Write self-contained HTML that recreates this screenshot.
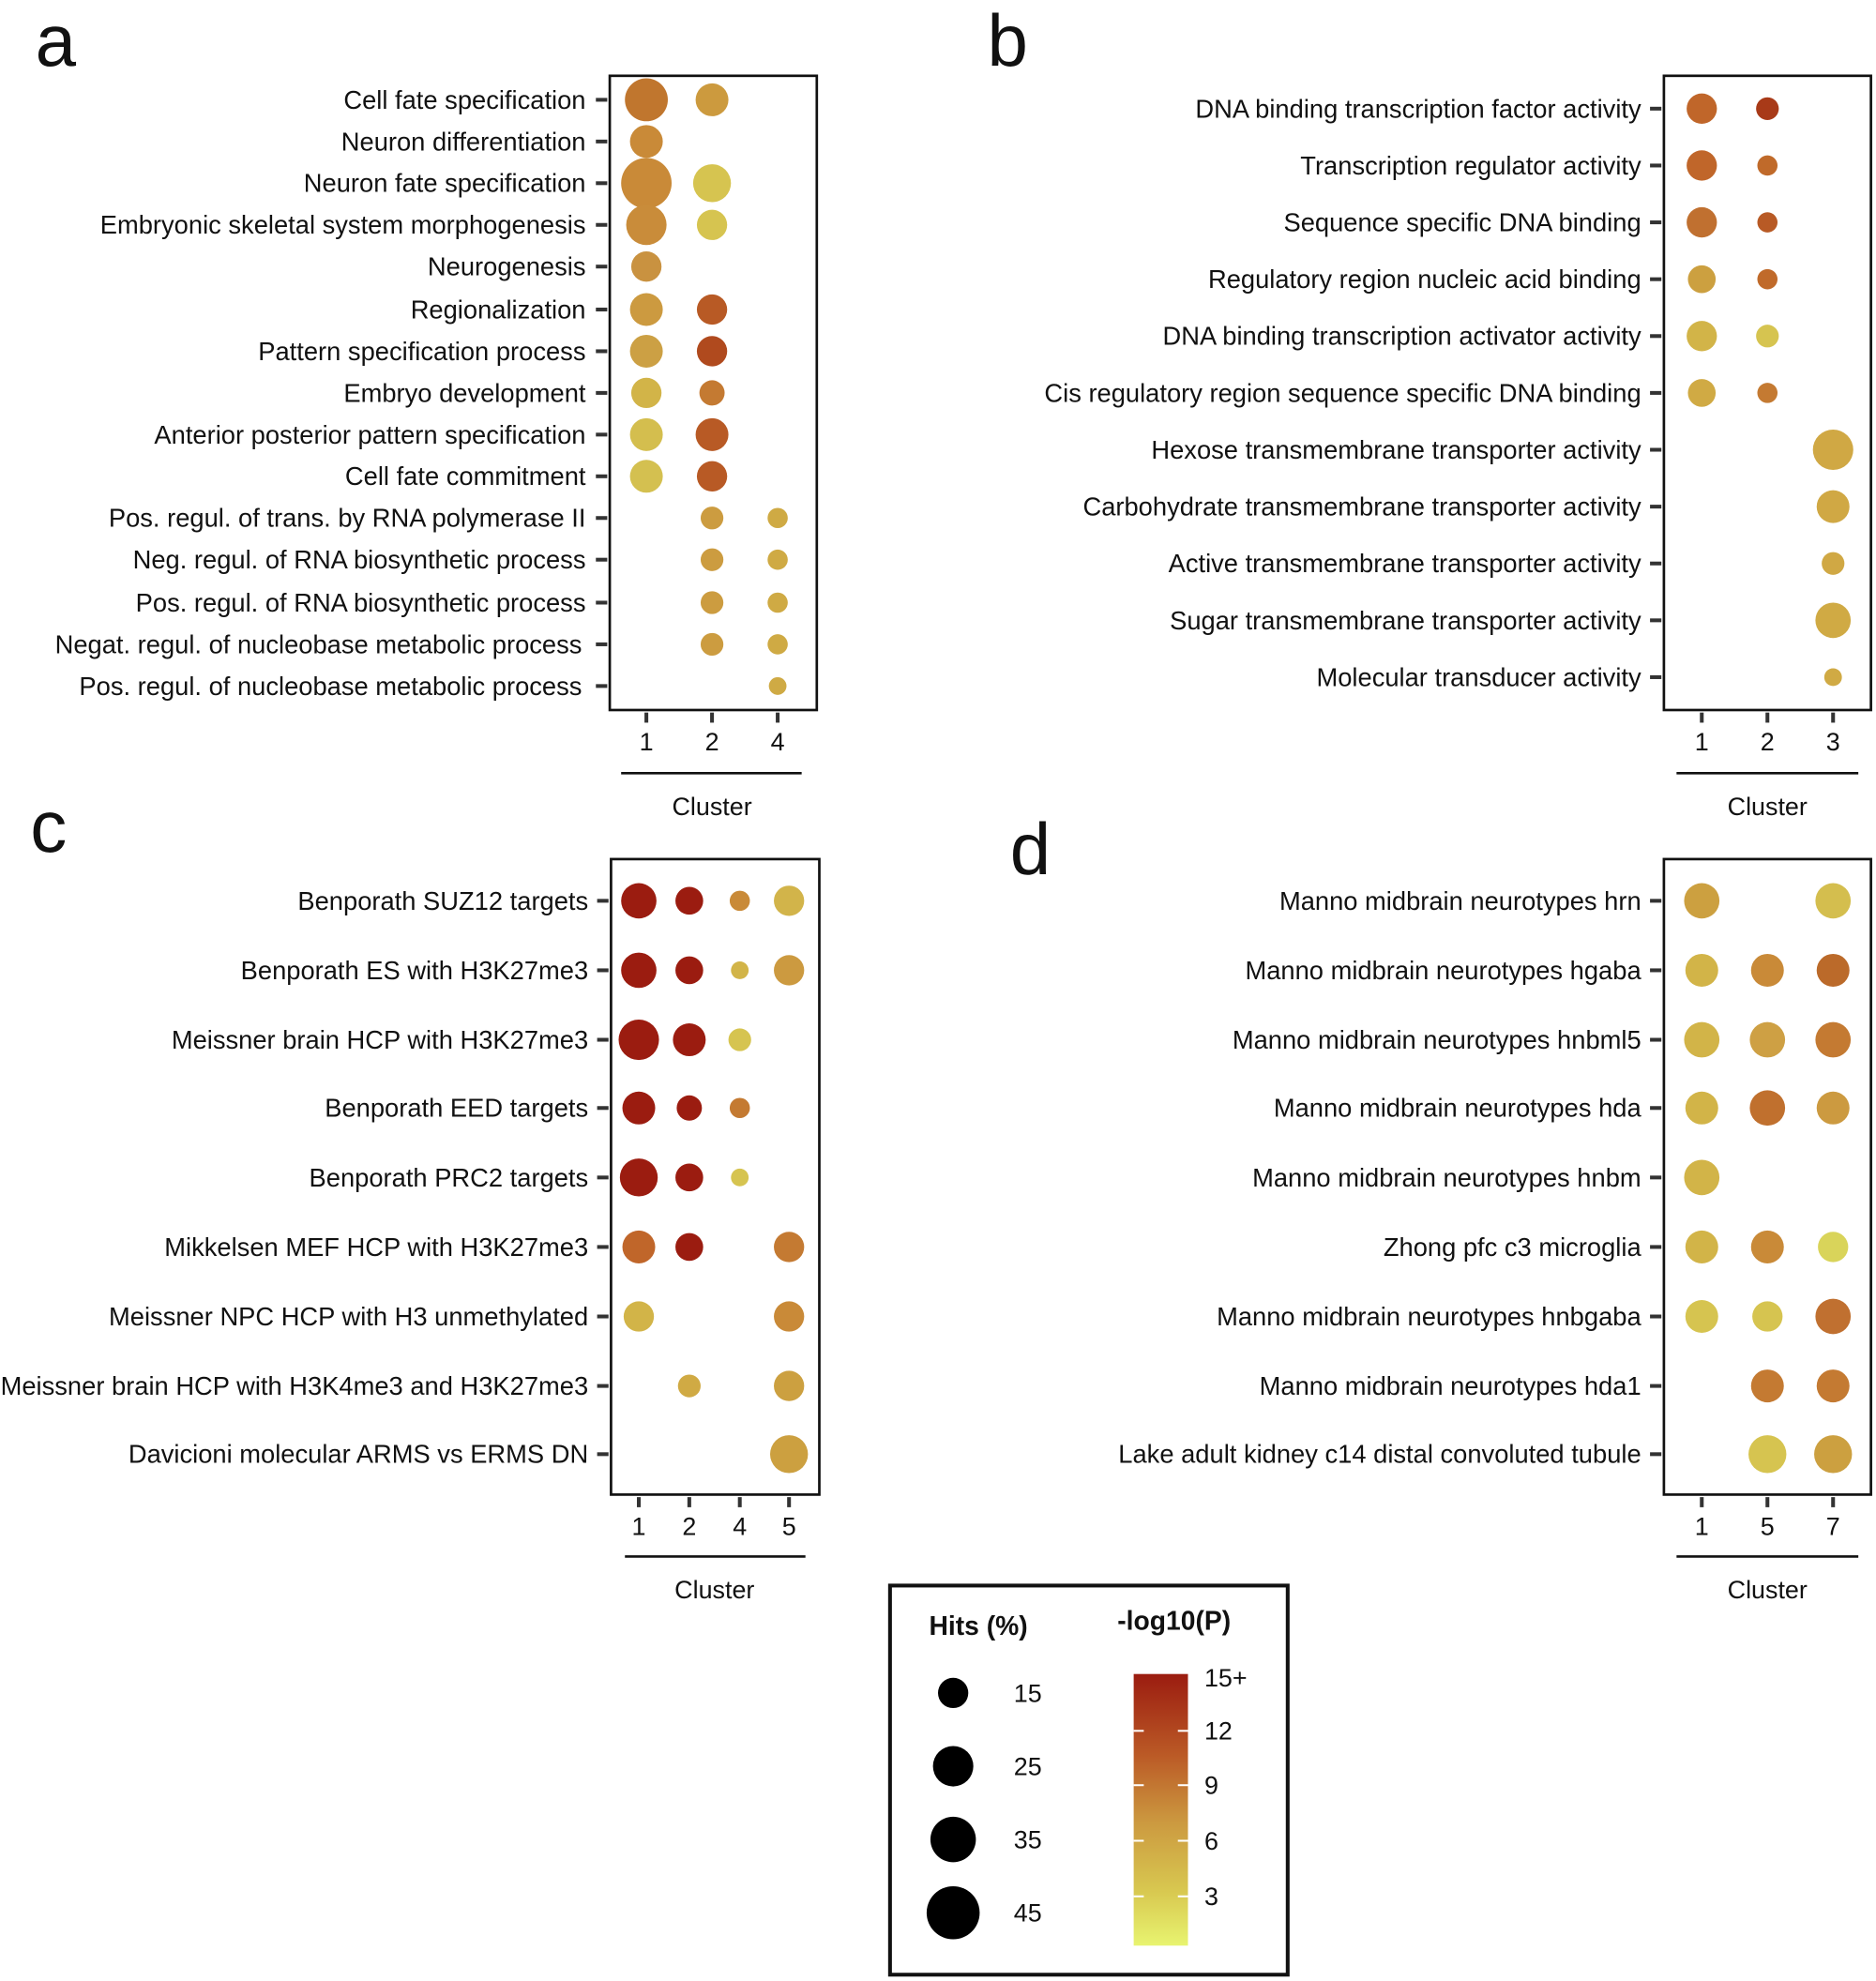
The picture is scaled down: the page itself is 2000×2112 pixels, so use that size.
<!DOCTYPE html>
<html><head><meta charset="utf-8"><style>
html,body{margin:0;padding:0;background:#fff}
svg{display:block}
text{font-family:"Liberation Sans",Arial,sans-serif;fill:#111}
.l{font-size:20.3px;text-anchor:end}
.t{font-size:20px;text-anchor:middle}
.p{font-size:58px}
.ax{stroke:#111;stroke-width:2;fill:none}
.tk{stroke:#333;stroke-width:3}
</style></head><body>
<svg width="2000" height="2112" viewBox="0 0 1486 1568" preserveAspectRatio="none" xmlns="http://www.w3.org/2000/svg">
<defs><linearGradient id="g" x1="0" y1="0" x2="0" y2="1">
<stop offset="0" stop-color="#9b1c10"/><stop offset="0.3" stop-color="#bb5a26"/><stop offset="0.55" stop-color="#cc9a40"/><stop offset="0.8" stop-color="#d8c850"/><stop offset="1" stop-color="#e8f470"/></linearGradient></defs>

<!-- Panel a -->
<text class="p" x="28" y="52">a</text>
<rect class="ax" x="483" y="60" width="164" height="502"/>
<g class="tk">
<line x1="472" y1="79" x2="481" y2="79"/><line x1="472" y1="112" x2="481" y2="112"/><line x1="472" y1="145" x2="481" y2="145"/><line x1="472" y1="178" x2="481" y2="178"/><line x1="472" y1="211" x2="481" y2="211"/><line x1="472" y1="245" x2="481" y2="245"/><line x1="472" y1="278" x2="481" y2="278"/><line x1="472" y1="311" x2="481" y2="311"/><line x1="472" y1="344" x2="481" y2="344"/><line x1="472" y1="377" x2="481" y2="377"/><line x1="472" y1="410" x2="481" y2="410"/><line x1="472" y1="443" x2="481" y2="443"/><line x1="472" y1="477" x2="481" y2="477"/><line x1="472" y1="510" x2="481" y2="510"/><line x1="472" y1="543" x2="481" y2="543"/>
<line x1="512" y1="564" x2="512" y2="572"/><line x1="564" y1="564" x2="564" y2="572"/><line x1="616" y1="564" x2="616" y2="572"/>
</g>
<text class="l" x="464" y="86">Cell fate specification</text>
<text class="l" x="464" y="119">Neuron differentiation</text>
<text class="l" x="464" y="152">Neuron fate specification</text>
<text class="l" x="464" y="185">Embryonic skeletal system morphogenesis</text>
<text class="l" x="464" y="218">Neurogenesis</text>
<text class="l" x="464" y="252">Regionalization</text>
<text class="l" x="464" y="285">Pattern specification process</text>
<text class="l" x="464" y="318">Embryo development</text>
<text class="l" x="464" y="351">Anterior posterior pattern specification</text>
<text class="l" x="464" y="384">Cell fate commitment</text>
<text class="l" x="464" y="417">Pos. regul. of trans. by RNA polymerase II</text>
<text class="l" x="464" y="450">Neg. regul. of RNA biosynthetic process</text>
<text class="l" x="464" y="484">Pos. regul. of RNA biosynthetic process</text>
<text class="l" x="461" y="517">Negat. regul. of nucleobase metabolic process</text>
<text class="l" x="461" y="550">Pos. regul. of nucleobase metabolic process</text>
<text class="t" x="512" y="594">1</text><text class="t" x="564" y="594">2</text><text class="t" x="616" y="594">4</text>
<line class="ax" x1="492" y1="612" x2="635" y2="612"/>
<text class="t" x="564" y="645">Cluster</text>
<circle cx="512" cy="79" r="17" fill="#c0762e"/><circle cx="564" cy="79" r="13" fill="#cc9a3e"/>
<circle cx="512" cy="112" r="13" fill="#c98a38"/>
<circle cx="512" cy="145" r="20" fill="#c98a38"/><circle cx="564" cy="145" r="15" fill="#d6c450"/>
<circle cx="512" cy="178" r="16" fill="#c98c3a"/><circle cx="564" cy="178" r="12" fill="#d6c450"/>
<circle cx="512" cy="211" r="12" fill="#c99240"/>
<circle cx="512" cy="245" r="13" fill="#cc9a40"/><circle cx="564" cy="245" r="12" fill="#b85a25"/>
<circle cx="512" cy="278" r="13" fill="#cca044"/><circle cx="564" cy="278" r="12" fill="#b04a1e"/>
<circle cx="512" cy="311" r="12" fill="#d2b448"/><circle cx="564" cy="311" r="10" fill="#c47a32"/>
<circle cx="512" cy="344" r="13" fill="#d4be4e"/><circle cx="564" cy="344" r="13" fill="#b85a25"/>
<circle cx="512" cy="377" r="13" fill="#d4c050"/><circle cx="564" cy="377" r="12" fill="#b85a25"/>
<circle cx="564" cy="410" r="9" fill="#cc9c40"/><circle cx="616" cy="410" r="8" fill="#cfaa44"/>
<circle cx="564" cy="443" r="9" fill="#cc9c40"/><circle cx="616" cy="443" r="8" fill="#cfaa44"/>
<circle cx="564" cy="477" r="9" fill="#cc9c40"/><circle cx="616" cy="477" r="8" fill="#cfaa44"/>
<circle cx="564" cy="510" r="9" fill="#cc9c40"/><circle cx="616" cy="510" r="8" fill="#cfaa44"/>
<circle cx="616" cy="543" r="7" fill="#cfaa44"/>

<!-- Panel b -->
<text class="p" x="782" y="52">b</text>
<rect class="ax" x="1318" y="60" width="164" height="502"/>
<g class="tk">
<line x1="1307" y1="86" x2="1316" y2="86"/><line x1="1307" y1="131" x2="1316" y2="131"/><line x1="1307" y1="176" x2="1316" y2="176"/><line x1="1307" y1="221" x2="1316" y2="221"/><line x1="1307" y1="266" x2="1316" y2="266"/><line x1="1307" y1="311" x2="1316" y2="311"/><line x1="1307" y1="356" x2="1316" y2="356"/><line x1="1307" y1="401" x2="1316" y2="401"/><line x1="1307" y1="446" x2="1316" y2="446"/><line x1="1307" y1="491" x2="1316" y2="491"/><line x1="1307" y1="536" x2="1316" y2="536"/>
<line x1="1348" y1="564" x2="1348" y2="572"/><line x1="1400" y1="564" x2="1400" y2="572"/><line x1="1452" y1="564" x2="1452" y2="572"/>
</g>
<text class="l" x="1300" y="93">DNA binding transcription factor activity</text>
<text class="l" x="1300" y="138">Transcription regulator activity</text>
<text class="l" x="1300" y="183">Sequence specific DNA binding</text>
<text class="l" x="1300" y="228">Regulatory region nucleic acid binding</text>
<text class="l" x="1300" y="273">DNA binding transcription activator activity</text>
<text class="l" x="1300" y="318">Cis regulatory region sequence specific DNA binding</text>
<text class="l" x="1300" y="363">Hexose transmembrane transporter activity</text>
<text class="l" x="1300" y="408">Carbohydrate transmembrane transporter activity</text>
<text class="l" x="1300" y="453">Active transmembrane transporter activity</text>
<text class="l" x="1300" y="498">Sugar transmembrane transporter activity</text>
<text class="l" x="1300" y="543">Molecular transducer activity</text>
<text class="t" x="1348" y="594">1</text><text class="t" x="1400" y="594">2</text><text class="t" x="1452" y="594">3</text>
<line class="ax" x1="1328" y1="612" x2="1472" y2="612"/>
<text class="t" x="1400" y="645">Cluster</text>
<circle cx="1348" cy="86" r="12" fill="#c0662a"/><circle cx="1400" cy="86" r="9" fill="#a83a18"/>
<circle cx="1348" cy="131" r="12" fill="#c0662a"/><circle cx="1400" cy="131" r="8" fill="#c06a2a"/>
<circle cx="1348" cy="176" r="12" fill="#c07030"/><circle cx="1400" cy="176" r="8" fill="#b85a25"/>
<circle cx="1348" cy="221" r="11" fill="#cca040"/><circle cx="1400" cy="221" r="8" fill="#c06a2a"/>
<circle cx="1348" cy="266" r="12" fill="#d2b448"/><circle cx="1400" cy="266" r="9" fill="#d6c450"/>
<circle cx="1348" cy="311" r="11" fill="#d0aa44"/><circle cx="1400" cy="311" r="8" fill="#c47a32"/>
<circle cx="1452" cy="356" r="16" fill="#d0a844"/>
<circle cx="1452" cy="401" r="13" fill="#d0a844"/>
<circle cx="1452" cy="446" r="9" fill="#d0a844"/>
<circle cx="1452" cy="491" r="14" fill="#d0aa44"/>
<circle cx="1452" cy="536" r="7" fill="#d0aa44"/>

<!-- Panel c -->
<text class="p" x="24" y="674">c</text>
<rect class="ax" x="484" y="680" width="165" height="503"/>
<g class="tk">
<line x1="473" y1="713" x2="482" y2="713"/><line x1="473" y1="768" x2="482" y2="768"/><line x1="473" y1="823" x2="482" y2="823"/><line x1="473" y1="877" x2="482" y2="877"/><line x1="473" y1="932" x2="482" y2="932"/><line x1="473" y1="987" x2="482" y2="987"/><line x1="473" y1="1042" x2="482" y2="1042"/><line x1="473" y1="1097" x2="482" y2="1097"/><line x1="473" y1="1151" x2="482" y2="1151"/>
<line x1="506" y1="1185" x2="506" y2="1193"/><line x1="546" y1="1185" x2="546" y2="1193"/><line x1="586" y1="1185" x2="586" y2="1193"/><line x1="625" y1="1185" x2="625" y2="1193"/>
</g>
<text class="l" x="466" y="720">Benporath SUZ12 targets</text>
<text class="l" x="466" y="775">Benporath ES with H3K27me3</text>
<text class="l" x="466" y="830">Meissner brain HCP with H3K27me3</text>
<text class="l" x="466" y="884">Benporath EED targets</text>
<text class="l" x="466" y="939">Benporath PRC2 targets</text>
<text class="l" x="466" y="994">Mikkelsen MEF HCP with H3K27me3</text>
<text class="l" x="466" y="1049">Meissner NPC HCP with H3 unmethylated</text>
<text class="l" x="466" y="1104">Meissner brain HCP with H3K4me3 and H3K27me3</text>
<text class="l" x="466" y="1158">Davicioni molecular ARMS vs ERMS DN</text>
<text class="t" x="506" y="1215">1</text><text class="t" x="546" y="1215">2</text><text class="t" x="586" y="1215">4</text><text class="t" x="625" y="1215">5</text>
<line class="ax" x1="495" y1="1232" x2="638" y2="1232"/>
<text class="t" x="566" y="1265">Cluster</text>
<circle cx="506" cy="713" r="14" fill="#9b1c10"/><circle cx="546" cy="713" r="11" fill="#9b1c10"/><circle cx="586" cy="713" r="8" fill="#c98a38"/><circle cx="625" cy="713" r="12" fill="#d2b44a"/>
<circle cx="506" cy="768" r="14" fill="#9b1c10"/><circle cx="546" cy="768" r="11" fill="#9b1c10"/><circle cx="586" cy="768" r="7" fill="#d2b448"/><circle cx="625" cy="768" r="12" fill="#cc9a40"/>
<circle cx="506" cy="823" r="16" fill="#9b1c10"/><circle cx="546" cy="823" r="13" fill="#9b1c10"/><circle cx="586" cy="823" r="9" fill="#d6c450"/>
<circle cx="506" cy="877" r="13" fill="#9b1c10"/><circle cx="546" cy="877" r="10" fill="#9b1c10"/><circle cx="586" cy="877" r="8" fill="#c47a32"/>
<circle cx="506" cy="932" r="15" fill="#9b1c10"/><circle cx="546" cy="932" r="11" fill="#9b1c10"/><circle cx="586" cy="932" r="7" fill="#d6c450"/>
<circle cx="506" cy="987" r="13" fill="#c0662a"/><circle cx="546" cy="987" r="11" fill="#9b1c10"/><circle cx="625" cy="987" r="12" fill="#c47a32"/>
<circle cx="506" cy="1042" r="12" fill="#d2b448"/><circle cx="625" cy="1042" r="12" fill="#c98a38"/>
<circle cx="546" cy="1097" r="9" fill="#d0aa44"/><circle cx="625" cy="1097" r="12" fill="#cca040"/>
<circle cx="625" cy="1151" r="15" fill="#cca040"/>

<!-- Panel d -->
<text class="p" x="800" y="692">d</text>
<rect class="ax" x="1318" y="680" width="164" height="503"/>
<g class="tk">
<line x1="1307" y1="713" x2="1316" y2="713"/><line x1="1307" y1="768" x2="1316" y2="768"/><line x1="1307" y1="823" x2="1316" y2="823"/><line x1="1307" y1="877" x2="1316" y2="877"/><line x1="1307" y1="932" x2="1316" y2="932"/><line x1="1307" y1="987" x2="1316" y2="987"/><line x1="1307" y1="1042" x2="1316" y2="1042"/><line x1="1307" y1="1097" x2="1316" y2="1097"/><line x1="1307" y1="1151" x2="1316" y2="1151"/>
<line x1="1348" y1="1185" x2="1348" y2="1193"/><line x1="1400" y1="1185" x2="1400" y2="1193"/><line x1="1452" y1="1185" x2="1452" y2="1193"/>
</g>
<text class="l" x="1300" y="720">Manno midbrain neurotypes hrn</text>
<text class="l" x="1300" y="775">Manno midbrain neurotypes hgaba</text>
<text class="l" x="1300" y="830">Manno midbrain neurotypes hnbml5</text>
<text class="l" x="1300" y="884">Manno midbrain neurotypes hda</text>
<text class="l" x="1300" y="939">Manno midbrain neurotypes hnbm</text>
<text class="l" x="1300" y="994">Zhong pfc c3 microglia</text>
<text class="l" x="1300" y="1049">Manno midbrain neurotypes hnbgaba</text>
<text class="l" x="1300" y="1104">Manno midbrain neurotypes hda1</text>
<text class="l" x="1300" y="1158">Lake adult kidney c14 distal convoluted tubule</text>
<text class="t" x="1348" y="1215">1</text><text class="t" x="1400" y="1215">5</text><text class="t" x="1452" y="1215">7</text>
<line class="ax" x1="1328" y1="1232" x2="1472" y2="1232"/>
<text class="t" x="1400" y="1265">Cluster</text>
<circle cx="1348" cy="713" r="14" fill="#cca040"/><circle cx="1452" cy="713" r="14" fill="#d4be4e"/>
<circle cx="1348" cy="768" r="13" fill="#d2b448"/><circle cx="1400" cy="768" r="13" fill="#c98a38"/><circle cx="1452" cy="768" r="13" fill="#bb6a2a"/>
<circle cx="1348" cy="823" r="14" fill="#d2b448"/><circle cx="1400" cy="823" r="14" fill="#cea044"/><circle cx="1452" cy="823" r="14" fill="#c47a32"/>
<circle cx="1348" cy="877" r="13" fill="#d2b448"/><circle cx="1400" cy="877" r="14" fill="#c0702e"/><circle cx="1452" cy="877" r="13" fill="#cc9a40"/>
<circle cx="1348" cy="932" r="14" fill="#d2b448"/>
<circle cx="1348" cy="987" r="13" fill="#d2b448"/><circle cx="1400" cy="987" r="13" fill="#c98a38"/><circle cx="1452" cy="987" r="12" fill="#d9d45a"/>
<circle cx="1348" cy="1042" r="13" fill="#d6c450"/><circle cx="1400" cy="1042" r="12" fill="#d6c450"/><circle cx="1452" cy="1042" r="14" fill="#c07030"/>
<circle cx="1400" cy="1097" r="13" fill="#c47a32"/><circle cx="1452" cy="1097" r="13" fill="#c47a32"/>
<circle cx="1400" cy="1151" r="15" fill="#d6c450"/><circle cx="1452" cy="1151" r="15" fill="#cca040"/>

<!-- Legend -->
<rect x="705" y="1255" width="315" height="308" fill="none" stroke="#111" stroke-width="3"/>
<text x="775" y="1294" style="font-size:21px;font-weight:bold;text-anchor:middle">Hits (%)</text>
<text x="930" y="1290" style="font-size:21px;font-weight:bold;text-anchor:middle">-log10(P)</text>
<circle cx="755" cy="1340" r="12" fill="#000"/><circle cx="755" cy="1398" r="16" fill="#000"/><circle cx="755" cy="1456" r="18" fill="#000"/><circle cx="755" cy="1514" r="21" fill="#000"/>
<text x="803" y="1347" style="font-size:20px">15</text><text x="803" y="1405" style="font-size:20px">25</text><text x="803" y="1463" style="font-size:20px">35</text><text x="803" y="1521" style="font-size:20px">45</text>
<rect x="898" y="1325" width="43" height="215" fill="url(#g)"/>
<g stroke="#fff" stroke-width="1.5">
<line x1="898" y1="1370" x2="906" y2="1370"/><line x1="933" y1="1370" x2="941" y2="1370"/>
<line x1="898" y1="1413" x2="906" y2="1413"/><line x1="933" y1="1413" x2="941" y2="1413"/>
<line x1="898" y1="1457" x2="906" y2="1457"/><line x1="933" y1="1457" x2="941" y2="1457"/>
<line x1="898" y1="1501" x2="906" y2="1501"/><line x1="933" y1="1501" x2="941" y2="1501"/>
</g>
<text x="954" y="1335" style="font-size:20px">15+</text>
<text x="954" y="1377" style="font-size:20px">12</text>
<text x="954" y="1420" style="font-size:20px">9</text>
<text x="954" y="1464" style="font-size:20px">6</text>
<text x="954" y="1508" style="font-size:20px">3</text>
</svg>
</body></html>
